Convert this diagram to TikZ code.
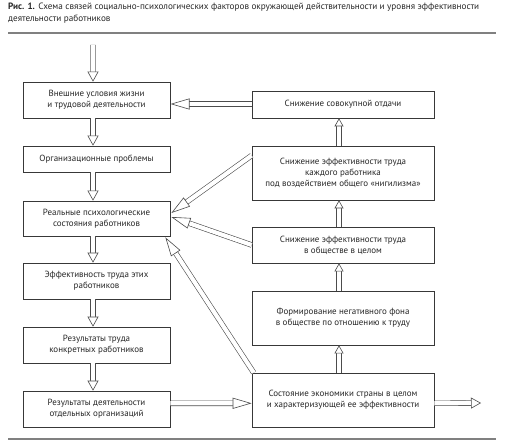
\documentclass[tikz,border=0pt]{standalone}
\usepackage{fontspec}
\setmainfont{PT Sans}
\usetikzlibrary{arrows.meta}
\begin{document}
\begin{tikzpicture}[x=1bp,y=-1bp,
  box/.style={draw=black!78, line width=0.7bp, align=center, inner sep=1bp,
    text=black!85, font=\fontsize{9}{11}\selectfont},
  lbox/.style={box, minimum width=147bp},
  rbox/.style={box, minimum width=182bp},
  darr/.style={draw=black!70, line width=0.6bp, double=white, double distance=4.2bp,
    -{Triangle[open, fill=white, length=10bp, width=11bp, line width=0.6bp]}},
  longarr/.style={darr, -{Triangle[open, fill=white, length=19bp, width=11bp, line width=0.6bp]}},
  smallarr/.style={darr, -{Triangle[open, fill=white, length=8bp, width=9bp, line width=0.6bp]}},
  rule/.style={draw=black!50, line width=1.2bp}
]
\useasboundingbox (0,0) rectangle (505,444);
% caption
\node[anchor=north west, align=left, inner sep=0, font=\fontsize{9.2}{12}\selectfont, text=black!85] (cap) at (8,3)
  {\textbf{Рис. 1.} Схема связей социально-психологических факторов окружающей действительности и уровня эффективности\\деятельности работников};
\coordinate (t1) at (8,33);
\coordinate (t2) at (496,33);
\draw[rule] (t1) -- (t2);
\coordinate (b1) at (8,439);
\coordinate (b2) at (496,439);
\draw[rule] (b1) -- (b2);
% left column
\node[lbox, minimum height=36bp] (L1) at (96.5,100) {Внешние условия жизни\\и трудовой деятельности};
\node[lbox, minimum height=26bp] (L2) at (96.5,159) {Организационные проблемы};
\node[lbox, minimum height=35bp] (L3) at (96.5,218.5) {Реальные психологические\\состояния работников};
\node[lbox, minimum height=36bp] (L4) at (96.5,281) {Эффективность труда этих\\работников};
\node[lbox, minimum height=36bp] (L5) at (96.5,345) {Результаты труда\\конкретных работников};
\node[lbox, minimum height=36bp] (L6) at (96.5,409) {Результаты деятельности\\отдельных организаций};
% right column
\node[rbox, minimum height=27bp] (R1) at (343,104.5) {Снижение совокупной отдачи};
\node[rbox, minimum height=54bp] (R2) at (343,173) {Снижение эффективности труда\\каждого работника\\под воздействием общего «нигилизма»};
\node[rbox, minimum height=36bp] (R3) at (343,245) {Снижение эффективности труда\\в обществе в целом};
\node[rbox, minimum height=54bp] (R4) at (343,318) {Формирование негативного фона\\в обществе по отношению к труду};
\node[rbox, minimum height=54bp] (R5) at (343,400) {Состояние экономики страны  в целом\\и характеризующей ее эффективности};
% input / output
\coordinate (in) at (93,45);
\coordinate (out) at (481,403);
\coordinate (l1r) at (170.5,104);
% left vertical arrows
\draw[darr] (in) -- ([xshift=-3.5bp]L1.north);
\draw[darr] ([xshift=-3.5bp]L1.south) -- ([xshift=-3.5bp]L2.north);
\draw[darr] ([xshift=-3.5bp]L2.south) -- ([xshift=-3.5bp]L3.north);
\draw[darr] ([xshift=-3.5bp]L3.south) -- ([xshift=-3.5bp]L4.north);
\draw[darr] ([xshift=-3.5bp]L4.south) -- ([xshift=-3.5bp]L5.north);
\draw[darr] ([xshift=-3.5bp]L5.south) -- ([xshift=-3.5bp]L6.north);
% right vertical arrows
\draw[smallarr] ([xshift=-4bp]R5.north) -- ([xshift=-4bp]R4.south);
\draw[smallarr] ([xshift=-4bp]R4.north) -- ([xshift=-4bp]R3.south);
\draw[smallarr] ([xshift=-4bp]R3.north) -- ([xshift=-4bp]R2.south);
\draw[smallarr] ([xshift=-4bp]R2.north) -- ([xshift=-4bp]R1.south);
% horizontal
\draw[longarr] ([yshift=0.5bp]R1.west) -- (l1r);
\draw[longarr] ([yshift=5.7bp]L6.east) -- ([yshift=-3.3bp]R5.west);
\draw[darr] ([yshift=-3.3bp]R5.east) -- (out);
% diagonals
\draw[longarr] ([yshift=17.5bp]R2.west) -- ([xshift=1bp,yshift=5.5bp]L3.east);
\draw[longarr] (R3.west) -- ([xshift=1bp,yshift=1.5bp]L3.east);
\draw[longarr] ([xshift=2bp]R5.north west) -- ([xshift=-5bp,yshift=-1bp]L3.south east);
\end{tikzpicture}
\end{document}
